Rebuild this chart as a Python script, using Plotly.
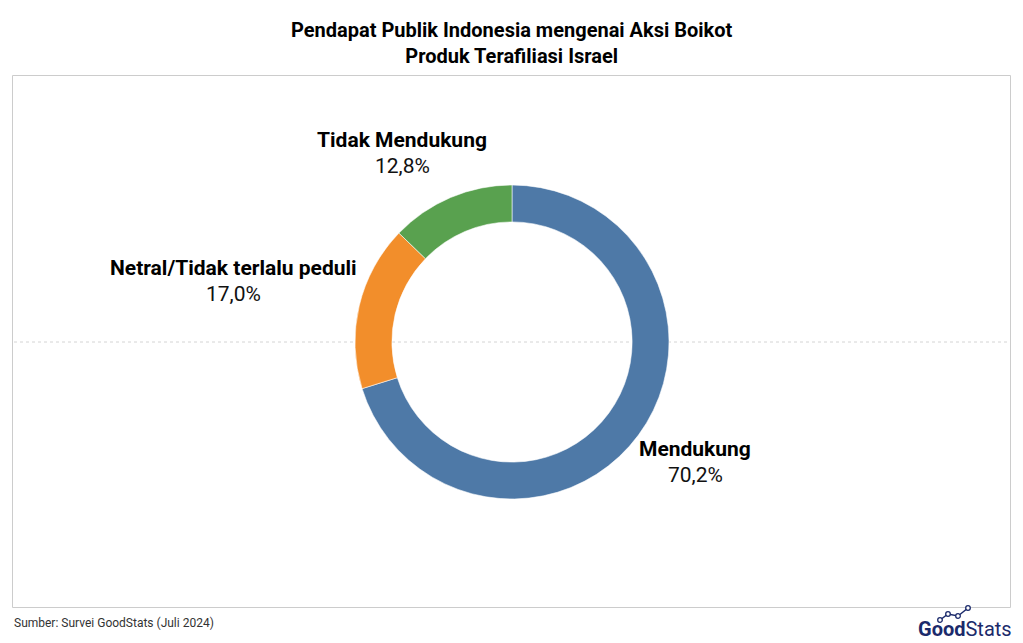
import plotly.graph_objects as go

categories = ["Mendukung", "Netral/Tidak terlalu peduli", "Tidak Mendukung"]
values = [70.2, 17.0, 12.8]
value_labels = ["70,2%", "17,0%", "12,8%"]
colors = ["#4e79a7", "#f28e2b", "#59a14f"]

W, H = 1023, 643
cx, cy, R = 512, 342, 157

fig = go.Figure()
fig.add_trace(go.Pie(
    labels=categories,
    values=values,
    sort=False,
    direction="clockwise",
    rotation=0,
    hole=0.765,
    marker=dict(colors=colors, line=dict(color="rgba(255,255,255,0.7)", width=0.8)),
    textinfo="none",
    hoverinfo="label+percent",
    showlegend=False,
    domain=dict(x=[(cx - R) / W, (cx + R) / W], y=[1 - (cy + R) / H, 1 - (cy - R) / H]),
))

# label anchor positions (pixel centres of the label blocks)
label_pos = {
    "Mendukung": (695, 449),
    "Netral/Tidak terlalu peduli": (233, 268),
    "Tidak Mendukung": (402, 140),
}
for cat, vl in zip(categories, value_labels):
    px, py = label_pos[cat]
    fig.add_annotation(
        x=px / W, y=1 - py / H, xref="paper", yref="paper",
        text=f"<b>{cat}</b>", showarrow=False, xanchor="center", yanchor="middle",
        font=dict(family="Roboto", size=21, color="#000000"),
    )
    fig.add_annotation(
        x=px / W, y=1 - (py + 26) / H, xref="paper", yref="paper",
        text=vl, showarrow=False, xanchor="center", yanchor="middle",
        font=dict(family="Roboto", size=21, color="#111111"),
    )

# frame and dotted centre line
fig.add_shape(type="rect", xref="paper", yref="paper",
              x0=12.5 / W, x1=1010.5 / W, y0=1 - 607.5 / H, y1=1 - 75.5 / H,
              line=dict(color="#cccccc", width=1), fillcolor="rgba(0,0,0,0)", layer="below")
fig.add_shape(type="line", xref="paper", yref="paper",
              x0=14 / W, x1=1009 / W, y0=1 - 342 / H, y1=1 - 342 / H,
              line=dict(color="#d4d4d4", width=1, dash="dot"), layer="below")

# title
fig.add_annotation(
    x=0.5, y=1 - 43 / H, xref="paper", yref="paper",
    text="<b>Pendapat Publik Indonesia mengenai Aksi Boikot<br>Produk Terafiliasi Israel</b>",
    showarrow=False, xanchor="center", yanchor="middle", align="center",
    font=dict(family="Roboto", size=20, color="#000000"),
)

# source
fig.add_annotation(
    x=12 / W, y=1 - 623 / H, xref="paper", yref="paper",
    text="Sumber: Survei GoodStats (Juli 2024)", showarrow=False,
    xanchor="left", yanchor="middle",
    font=dict(family="Roboto", size=12, color="#333333"),
)

# logo
fig.add_annotation(
    x=1014 / W, y=1 - 629 / H, xref="paper", yref="paper",
    text="<b>Good</b>Stats", showarrow=False,
    xanchor="right", yanchor="middle",
    font=dict(family="Roboto", size=20, color="#1b2a6b"),
)
pts = [(940, 620), (948, 614), (958, 616), (968, 608)]
fig.add_shape(type="path", xref="paper", yref="paper",
              path="M " + " L ".join(f"{x/W} {1-y/H}" for x, y in pts),
              line=dict(color="#1b2a6b", width=1.5))
for (qx, qy) in pts:
    fig.add_shape(type="circle", xref="paper", yref="paper",
                  x0=(qx - 2.3) / W, x1=(qx + 2.3) / W, y0=1 - (qy + 2.3) / H, y1=1 - (qy - 2.3) / H,
                  line=dict(color="#1b2a6b", width=1.3), fillcolor="white")

fig.update_layout(
    width=W, height=H,
    margin=dict(l=0, r=0, t=0, b=0),
    paper_bgcolor="white", plot_bgcolor="white",
    font=dict(family="Roboto"),
)

fig.write_html("out.html", config={"displayModeBar": False},
               post_script="document.body.style.margin='0';document.body.style.overflow='hidden';")
